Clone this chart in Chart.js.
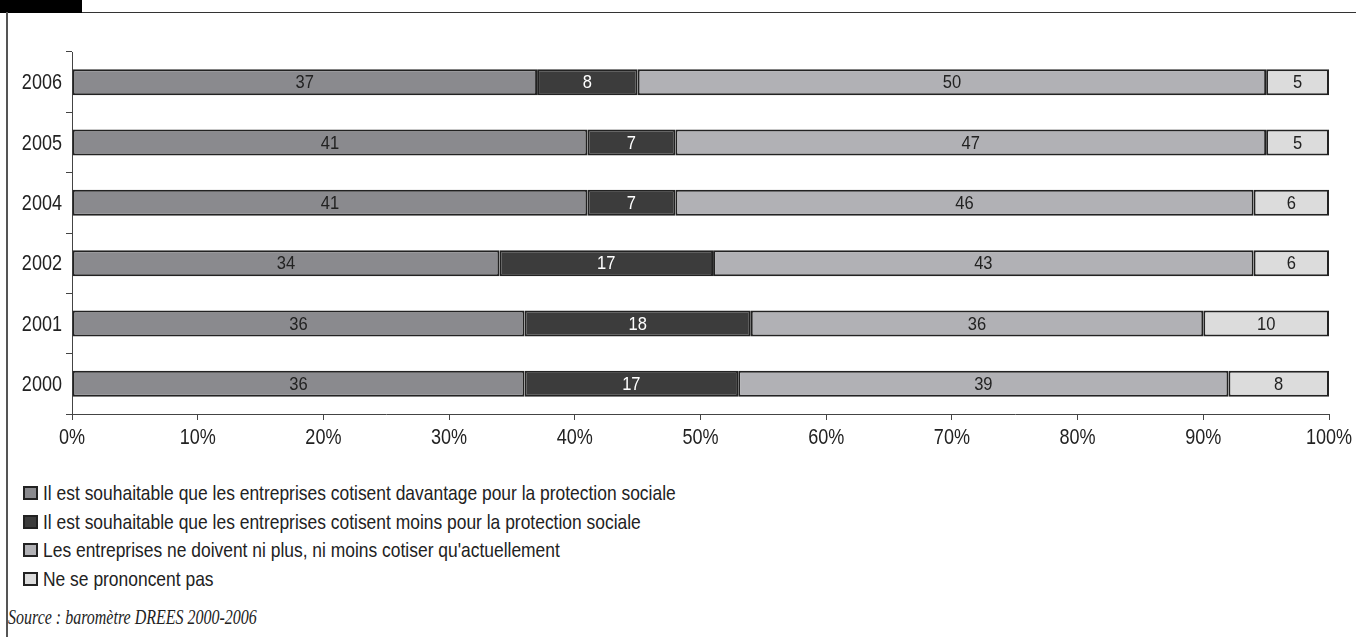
<!DOCTYPE html>
<html><head><meta charset="utf-8">
<script src="https://cdn.jsdelivr.net/npm/chart.js@4.4.1/dist/chart.umd.min.js"></script>
<style>
html,body{margin:0;padding:0;background:#fff;width:1356px;height:637px;overflow:hidden;font-family:"Liberation Sans",Arial,sans-serif;}
#blk{position:absolute;left:0;top:0;width:82px;height:13px;background:#000;}
#hline{position:absolute;left:82px;top:12px;width:1274px;height:1px;background:#333;}
#vline{position:absolute;left:6px;top:12px;width:2px;height:625px;background:#555;}
#wrap{position:absolute;left:0;top:0;width:1356px;height:460px;}
#legend{position:absolute;left:23px;top:479px;font-size:21px;color:#222;}
.li{height:28.5px;display:flex;align-items:center;white-space:nowrap;}
.bx{box-sizing:border-box;width:15px;height:14px;border:2.5px solid #222;margin-right:5px;flex:none;}
.tx{display:inline-block;transform:scaleX(0.83);transform-origin:left center;}
#src{position:absolute;left:8px;top:606px;line-height:22px;font-family:"Liberation Serif","Times New Roman",serif;font-style:italic;font-size:20px;color:#222;white-space:nowrap;transform:scaleX(0.8);transform-origin:left center;}
</style></head>
<body>
<div id="blk"></div><div id="hline"></div><div id="vline"></div>
<div id="wrap"><canvas id="c" width="1356" height="460"></canvas></div>
<div id="legend"></div>
<div id="src">Source : baromètre DREES 2000-2006</div>
<script>
const years = ['2006','2005','2004','2002','2001','2000'];
const seriesNames = [
  "Il est souhaitable que les entreprises cotisent davantage pour la protection sociale",
  "Il est souhaitable que les entreprises cotisent moins pour la protection sociale",
  "Les entreprises ne doivent ni plus, ni moins cotiser qu'actuellement",
  "Ne se prononcent pas"
];
const davantage = [37, 41, 41, 34, 36, 36];
const moins     = [8, 7, 7, 17, 18, 17];
const niPlusNiMoins = [50, 47, 46, 43, 36, 39];
const nsp       = [5, 5, 6, 6, 10, 8];
const xTicks = [0,10,20,30,40,50,60,70,80,90,100];
const xTickLabels = ['0%','10%','20%','30%','40%','50%','60%','70%','80%','90%','100%'];

const fills = ['#8a8a8e','#3c3c3c','#b1b1b5','#dcdcdc'];
const labelColors = ['#222','#fff','#222','#222'];
const values = [davantage, moins, niPlusNiMoins, nsp];

const FAM = '"Liberation Sans", Arial, sans-serif';

const datasets = values.map((v,i)=>({
  label: seriesNames[i], data: v, backgroundColor: fills[i],
  borderColor:'#222', borderWidth:2, borderSkipped:false,
  categoryPercentage:1, barPercentage:0.43
}));

function narrowText(ctx, txt, x, y, align, font, sx, color){
  ctx.save();
  ctx.font = font; ctx.fillStyle = color;
  ctx.textAlign = align; ctx.textBaseline = 'middle';
  ctx.translate(x, y); ctx.scale(sx, 1);
  ctx.fillText(txt, 0, 0);
  ctx.restore();
}

const textPlugin = {
  id:'texts',
  afterDatasetsDraw(chart){
    const ctx = chart.ctx;
    chart.data.datasets.forEach((ds,di)=>{
      chart.getDatasetMeta(di).data.forEach((el,j)=>{
        const p = el.getCenterPoint();
        narrowText(ctx, String(ds.data[j]), p.x, p.y+1, 'center', '19px '+FAM, 0.87, labelColors[di]);
      });
    });
  },
  afterDraw(chart){
    const ctx = chart.ctx;
    const xs = chart.scales.x, ys = chart.scales.y;
    xTicks.forEach((v,i)=>{
      narrowText(ctx, xTickLabels[i], xs.getPixelForValue(v), 438, 'center', '22px '+FAM, 0.82, '#222');
    });
    years.forEach((lab,i)=>{
      narrowText(ctx, lab, 62, ys.getPixelForValue(i)+1, 'right', '22px '+FAM, 0.82, '#222');
    });
  }
};

new Chart(document.getElementById('c'), {
  type:'bar',
  data:{labels:years, datasets},
  options:{
    indexAxis:'y', responsive:false, animation:false,
    layout:{padding:{left:0,right:27,top:52,bottom:0}},
    plugins:{legend:{display:false}, tooltip:{enabled:false}},
    scales:{
      x:{stacked:true, min:0, max:100,
        afterBuildTicks(s){ s.ticks = xTicks.map(v=>({value:v})); },
        afterFit(s){ s.height = 46; },
        grid:{drawOnChartArea:false, drawTicks:true, tickLength:6, color:'#444'},
        border:{display:true, color:'#444', width:1},
        ticks:{display:false}
      },
      y:{stacked:true,
        afterFit(s){ s.width = 72; },
        grid:{drawOnChartArea:false, drawTicks:true, tickLength:6, offset:true, color:'#444'},
        border:{display:true, color:'#444', width:1},
        ticks:{display:false}
      }
    }
  },
  plugins:[textPlugin]
});

const lg = document.getElementById('legend');
seriesNames.forEach((n,i)=>{
  const d = document.createElement('div'); d.className='li';
  const b = document.createElement('span'); b.className='bx'; b.style.background=fills[i];
  const t = document.createElement('span'); t.className='tx'; t.textContent=n;
  d.appendChild(b); d.appendChild(t); lg.appendChild(d);
});
</script>
</body></html>
